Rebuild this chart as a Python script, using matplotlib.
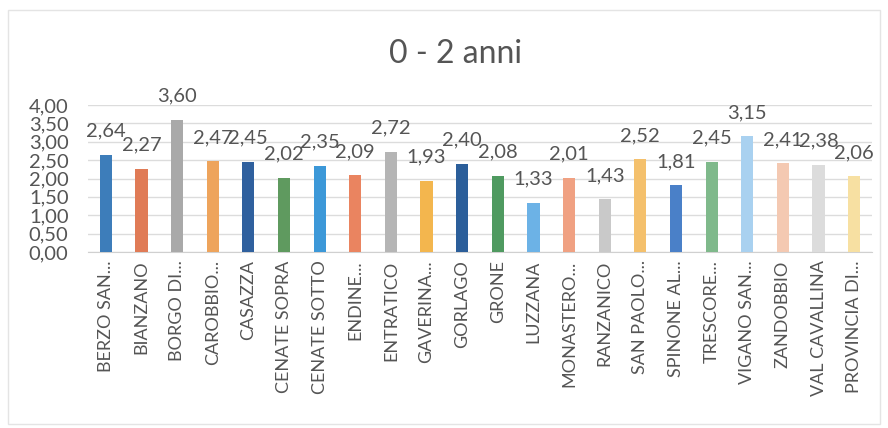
import matplotlib.pyplot as plt
from matplotlib.patches import Rectangle

# values
comuni = ["BERZO SAN...", "BIANZANO", "BORGO DI...", "CAROBBIO...", "CASAZZA",
          "CENATE SOPRA", "CENATE SOTTO", "ENDINE...", "ENTRATICO", "GAVERINA...",
          "GORLAGO", "GRONE", "LUZZANA", "MONASTERO...", "RANZANICO",
          "SAN PAOLO...", "SPINONE AL...", "TRESCORE...", "VIGANO SAN...", "ZANDOBBIO",
          "VAL CAVALLINA", "PROVINCIA DI..."]
valori = [2.64, 2.27, 3.60, 2.47, 2.45, 2.02, 2.35, 2.09, 2.72, 1.93, 2.40,
          2.08, 1.33, 2.01, 1.43, 2.52, 1.81, 2.45, 3.15, 2.41, 2.38, 2.06]
y_ticks = [0, 0.5, 1, 1.5, 2, 2.5, 3, 3.5, 4]

colori = ["#3d7dba", "#e07b56", "#a9a9a9", "#eea45c", "#2f609e", "#5f9a5f",
          "#3c98d8", "#ea8460", "#b5b5b5", "#f3b64e", "#2b5e9a", "#4f9a60",
          "#6cb2e6", "#f0a182", "#c9c9c9", "#f4c06c", "#4a80c8", "#7fb98b",
          "#a9d1f0", "#f4c9b2", "#dcdcdc", "#f7e0a2"]

plt.rcParams['font.family'] = ['Lato', 'DejaVu Sans']
text_col = "#555555"

fig = plt.figure(figsize=(8.88, 4.28), dpi=100)
ax = fig.add_axes([88 / 888, 176 / 428, 784 / 888, 147 / 428])

x = list(range(len(comuni)))
bars = ax.bar(x, valori, width=0.34, color=colori, zorder=3)

# data labels well above each bar, comma as decimal separator
for xi, v in zip(x, valori):
    ax.annotate(f"{v:.2f}".replace(".", ","), (xi, v), xytext=(0, 11),
                textcoords="offset points", ha="center", va="bottom",
                fontsize=14.5, color=text_col)

ax.set_xlim(-0.5, len(comuni) - 0.5)
ax.set_ylim(0, 4)
ax.set_yticks(y_ticks)
ax.set_yticklabels([f"{t:.2f}".replace(".", ",") for t in y_ticks],
                   fontsize=14.5, color=text_col)
ax.set_xticks(x)
ax.set_xticklabels(comuni, rotation=90, fontsize=13, color=text_col)
ax.tick_params(axis="both", length=0)
ax.tick_params(axis="x", pad=6)
ax.tick_params(axis="y", pad=14)

ax.yaxis.grid(True, color="#dcdcdc", linewidth=1, zorder=0)
for s in ["top", "left", "right"]:
    ax.spines[s].set_visible(False)
ax.spines["bottom"].set_color("#d0d0d0")

fig.text(455 / 888, 1 - 54 / 428, "0 - 2 anni", ha="center", va="center",
         fontsize=23, color=text_col)

# faint chart border
fig.patches.append(Rectangle((8 / 888, 4 / 428), 872 / 888, 414 / 428,
                             transform=fig.transFigure, fill=False,
                             edgecolor="#e4e4e4", linewidth=1))

fig.savefig("out.png", dpi=100)
